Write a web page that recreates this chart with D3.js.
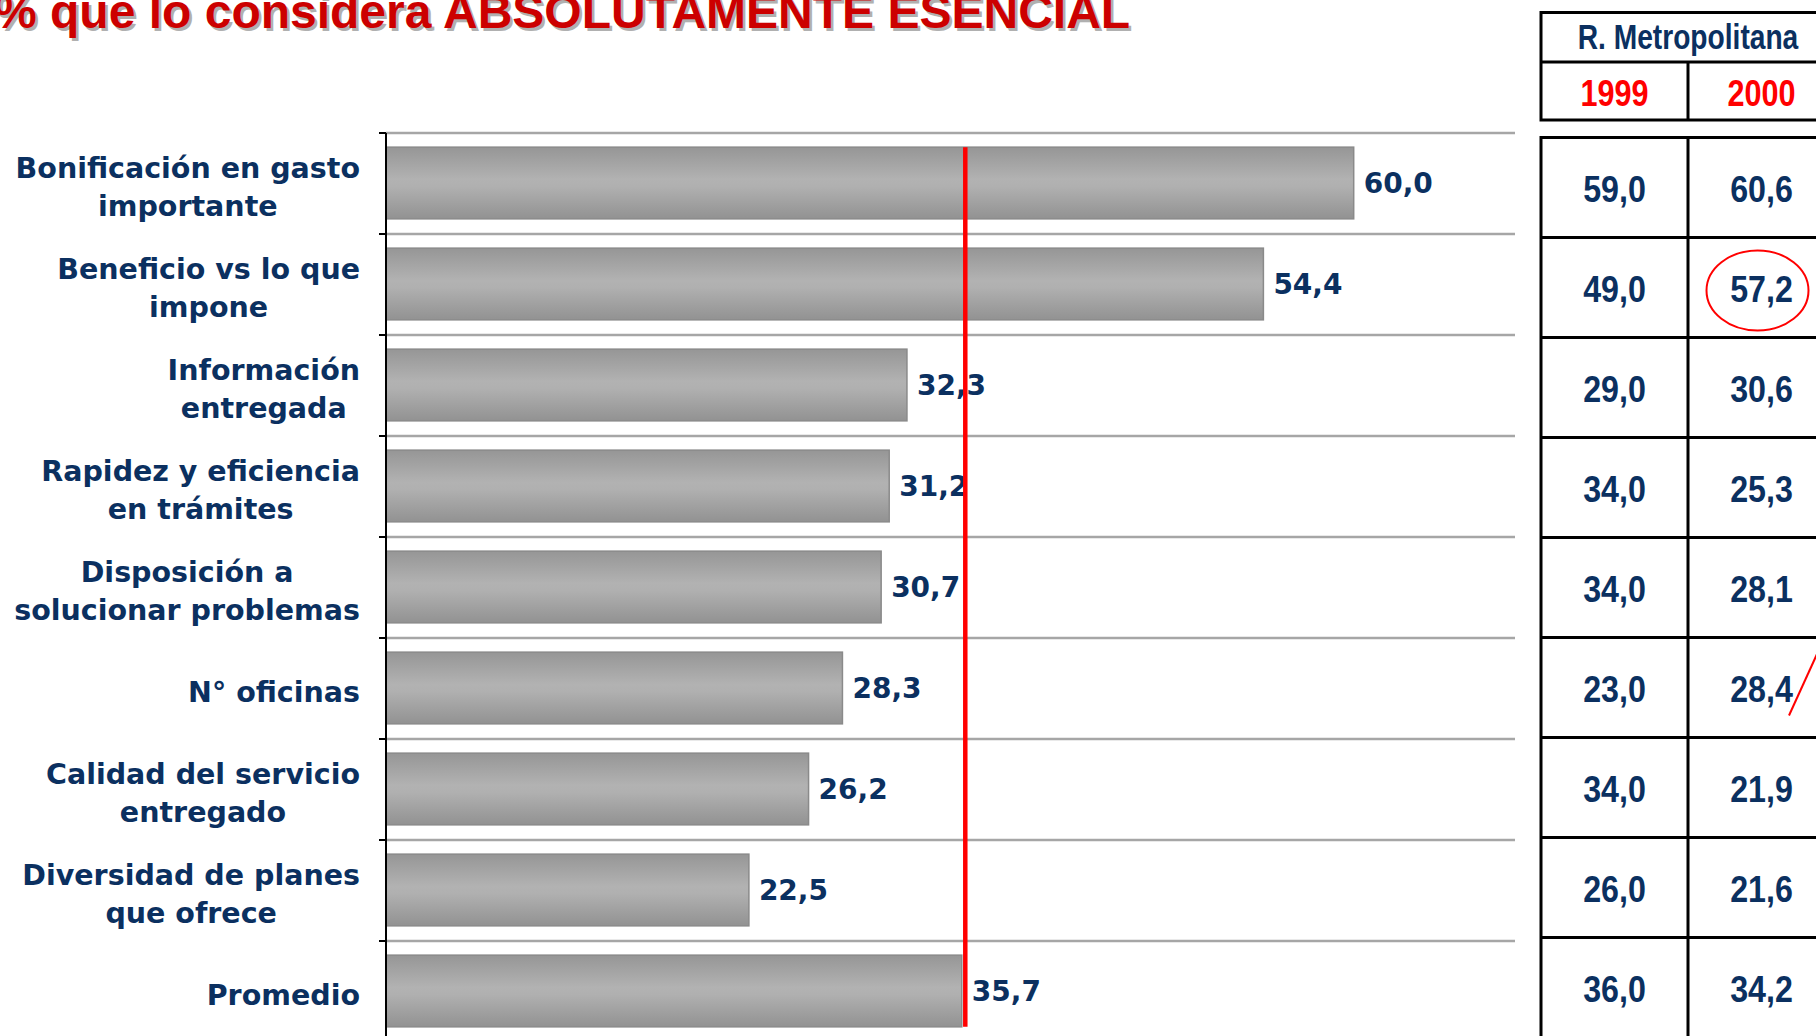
<!DOCTYPE html>
<html>
<head>
<meta charset="utf-8">
<script src="https://cdn.jsdelivr.net/npm/d3@7"></script>
<style>
  body { margin: 0; background: #fff; }
  svg { display: block; }
</style>
</head>
<body>
<svg id="chart" width="1816" height="1036"></svg>
<script>
// categories (| = line break)
const categories = [
    "Bonificación en gasto|importante",
    "Beneficio vs lo que|impone",
    "Información|entregada",
    "Rapidez y eficiencia|en trámites",
    "Disposición a|solucionar problemas",
    "N° oficinas",
    "Calidad del servicio|entregado",
    "Diversidad de planes|que ofrece",
    "Promedio"
];
const values = [60.0, 54.4, 32.3, 31.2, 30.7, 28.3, 26.2, 22.5, 35.7];
const averageValue = 35.7;

const tableTitle = "R. Metropolitana";
const tableYears = ["1999", "2000"];
const values1999 = ["59,0", "49,0", "29,0", "34,0", "34,0", "23,0", "34,0", "26,0", "36,0"];
const values2000 = ["60,6", "57,2", "30,6", "25,3", "28,1", "28,4", "21,9", "21,6", "34,2"];
const circledRow = 1; // 57,2

const titleText = "% que lo considera ABSOLUTAMENTE ESENCIAL";

const navy = "#0b3060";
const labelFont = "'DejaVu Sans', Verdana, sans-serif";
const tableFont = "'Liberation Sans', Arial, sans-serif";

const svg = d3.select("#chart");

// gradient for the bars
const defs = svg.append("defs");
const grad = defs.append("linearGradient")
    .attr("id", "barGrad")
    .attr("x1", 0).attr("y1", 0).attr("x2", 0).attr("y2", 1);
grad.append("stop").attr("offset", "0%").attr("stop-color", "#969696");
grad.append("stop").attr("offset", "45%").attr("stop-color", "#b2b2b2");
grad.append("stop").attr("offset", "55%").attr("stop-color", "#b0b0b0");
grad.append("stop").attr("offset", "100%").attr("stop-color", "#929292");

// title with shadow (cut at the top edge like the original slide)
[["#b0b0b0", 2.5], ["#cc0000", 0]].forEach(function(t) {
    svg.append("text")
        .attr("x", -6 + t[1])
        .attr("y", 28 + t[1])
        .style("font-family", tableFont)
        .style("font-weight", "bold")
        .style("font-size", "48px")
        .attr("fill", t[0])
        .text(titleText);
});

// scales
const xScale = d3.scaleLinear().domain([0, 70]).range([386, 1515]);
const yScale = d3.scaleBand().domain(categories).range([133, 133 + 9 * 101]);
const bw = yScale.bandwidth();

// gridlines at band boundaries
const g = svg.append("g");
g.selectAll(".grid")
    .data(categories)
    .enter()
    .append("line")
    .attr("x1", xScale(0))
    .attr("x2", xScale(70))
    .attr("y1", function(d) { return yScale(d); })
    .attr("y2", function(d) { return yScale(d); })
    .attr("stroke", "#a6a6a6")
    .attr("stroke-width", 2.5);

// tick marks on the left axis
g.selectAll(".tick")
    .data(categories)
    .enter()
    .append("line")
    .attr("x1", xScale(0) - 7)
    .attr("x2", xScale(0))
    .attr("y1", function(d) { return yScale(d); })
    .attr("y2", function(d) { return yScale(d); })
    .attr("stroke", "#000")
    .attr("stroke-width", 2);

// bars
g.selectAll(".bar")
    .data(values)
    .enter()
    .append("rect")
    .attr("x", xScale(0))
    .attr("y", function(d, i) { return yScale(categories[i]) + bw * 0.14; })
    .attr("width", function(d) { return xScale(d) - xScale(0); })
    .attr("height", bw * 0.71)
    .attr("fill", "url(#barGrad)")
    .attr("stroke", "#8a8a8a")
    .attr("stroke-width", 1.5);

// axis line
g.append("line")
    .attr("x1", xScale(0)).attr("x2", xScale(0))
    .attr("y1", yScale(categories[0]))
    .attr("y2", 1036)
    .attr("stroke", "#000")
    .attr("stroke-width", 2);

// value labels
g.selectAll(".val")
    .data(values)
    .enter()
    .append("text")
    .attr("x", function(d) { return xScale(d) + 10; })
    .attr("y", function(d, i) { return yScale(categories[i]) + bw * 0.495; })
    .attr("dy", "0.36em")
    .style("font-family", labelFont)
    .style("font-weight", "bold")
    .style("font-size", "28px")
    .attr("fill", navy)
    .text(function(d) { return d.toFixed(1).replace(".", ","); });

// category labels, centred block right-aligned at x=360
categories.forEach(function(c) {
    const lines = c.split("|");
    const t = g.append("text")
        .style("font-family", labelFont)
        .style("font-weight", "bold")
        .style("font-size", "28.5px")
        .attr("fill", navy)
        .attr("text-anchor", "middle");
    const cy = yScale(c) + bw / 2 + 3;
    const spans = lines.map(function(l, i) {
        return t.append("tspan")
            .attr("y", cy + (i - (lines.length - 1) / 2) * 38)
            .attr("dy", "0.36em")
            .text(l);
    });
    let maxW = 0;
    spans.forEach(function(s) { maxW = Math.max(maxW, s.node().getComputedTextLength()); });
    spans.forEach(function(s) { s.attr("x", 360 - maxW / 2); });
});

// red average line
g.append("line")
    .attr("x1", xScale(averageValue) + 3.5)
    .attr("x2", xScale(averageValue) + 3.5)
    .attr("y1", yScale(categories[0]) + bw * 0.14)
    .attr("y2", yScale(categories[8]) + bw * 0.85)
    .attr("stroke", "#ff0000")
    .attr("stroke-width", 4.5);

// ---- table on the right ----
const tx0 = 1541, tx1 = 1688, tx2 = 1835;
const tbl = svg.append("g");
const rowScale = d3.scaleBand().domain(categories).range([137.5, 137.5 + 900]);
const rh = rowScale.bandwidth();

function tableText(x, y, txt, color, size, sx) {
    tbl.append("g")
        .attr("transform", "translate(" + x + "," + y + ") scale(" + sx + ",1.08)")
        .append("text")
        .attr("text-anchor", "middle")
        .style("font-family", tableFont)
        .style("font-weight", "bold")
        .style("font-size", size + "px")
        .attr("fill", color)
        .text(txt);
}

// header box
tbl.append("rect")
    .attr("x", tx0).attr("y", 12.5)
    .attr("width", tx2 - tx0).attr("height", 107.5)
    .attr("fill", "none").attr("stroke", "#000").attr("stroke-width", 3);
tbl.append("line")
    .attr("x1", tx0).attr("x2", tx2).attr("y1", 62).attr("y2", 62)
    .attr("stroke", "#000").attr("stroke-width", 3);
tbl.append("line")
    .attr("x1", tx1).attr("x2", tx1).attr("y1", 62).attr("y2", 120)
    .attr("stroke", "#000").attr("stroke-width", 3);
tableText((tx0 + tx2) / 2, 49, tableTitle, navy, 32, 0.88);
tableText((tx0 + tx1) / 2, 106, tableYears[0], "#ff0000", 34, 0.9);
tableText((tx1 + tx2) / 2, 106, tableYears[1], "#ff0000", 34, 0.9);

// body
tbl.selectAll(".row")
    .data(categories)
    .enter()
    .append("line")
    .attr("x1", tx0).attr("x2", tx2)
    .attr("y1", function(d) { return rowScale(d); })
    .attr("y2", function(d) { return rowScale(d); })
    .attr("stroke", "#000").attr("stroke-width", 3);
[tx0, tx1].forEach(function(x) {
    tbl.append("line")
        .attr("x1", x).attr("x2", x)
        .attr("y1", rowScale(categories[0]) - 1.5).attr("y2", 1040)
        .attr("stroke", "#000").attr("stroke-width", 3);
});
categories.forEach(function(c, i) {
    const by = rowScale(c) + rh / 2 + 14;
    tableText((tx0 + tx1) / 2, by, values1999[i], navy, 35, 0.92);
    tableText((tx1 + tx2) / 2, by, values2000[i], navy, 35, 0.92);
});

// red annotations
tbl.append("ellipse")
    .attr("cx", (tx1 + tx2) / 2 - 4)
    .attr("cy", rowScale(categories[circledRow]) + rh / 2 + 3)
    .attr("rx", 51).attr("ry", 40)
    .attr("fill", "none").attr("stroke", "#ff0000").attr("stroke-width", 2);
tbl.append("line")
    .attr("x1", 1789).attr("y1", rowScale(categories[5]) + 78)
    .attr("x2", 1830).attr("y2", rowScale(categories[5]) - 12)
    .attr("stroke", "#ff0000").attr("stroke-width", 2);
</script>
</body>
</html>
